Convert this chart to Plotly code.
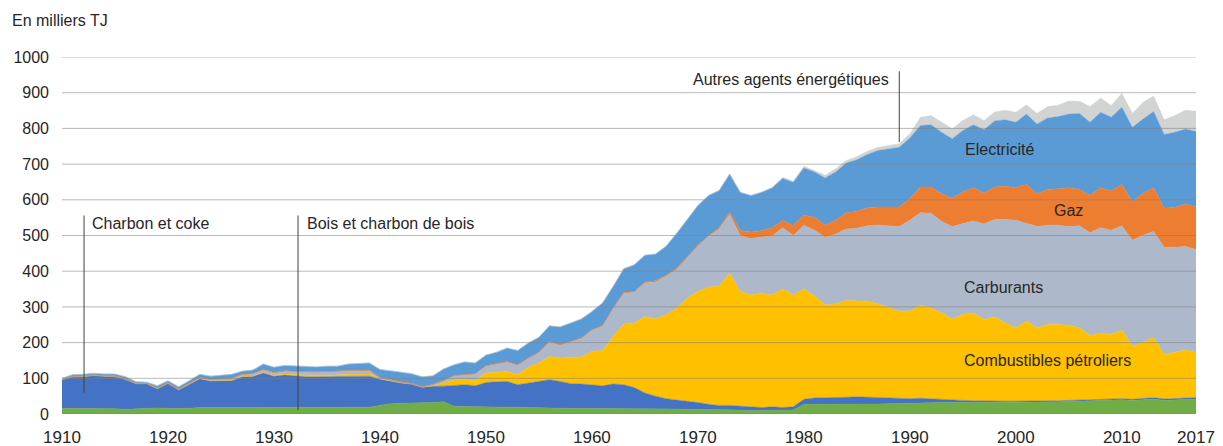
import plotly.graph_objects as go

years = list(range(1910, 2018))

bois = [16,16,16,16,16,15,13,14,17,17,
        16,15,16,18,19,18,18,18,18,18,
        18,19,18,18,18,18,17,17,17,19,
        24,29,30,30,31,32,34,22,21,20,
        20,19,19,19,19,18,17,16,16,16,
        15,15,15,15,15,15,14,14,14,13,
        13,12,12,11,11,10,10,10,10,11,
        27,27,26,26,27,28,28,28,29,30,
        31,32,32,32,32,32,32,32,32,32,
        33,33,33,34,34,35,36,36,38,38,
        40,38,40,42,38,40,41,42]

charbon = [80,88,89,92,90,90,84,71,68,54,
           70,53,67,81,74,76,76,86,87,97,
           88,90,88,86,86,86,88,89,89,87,
           73,63,57,54,44,46,44,58,61,59,
           68,71,72,63,68,73,79,75,69,68,
           67,64,69,67,59,44,36,29,25,23,
           19,15,12,13,11,8,8,10,8,9,
           14,18,19,19,20,20,19,18,16,13,
           12,12,10,8,6,6,5,4,3,4,
           3,4,3,3,3,3,3,3,3,3,
           3,3,4,4,4,4,4,4]

combustibles = [0,0,0,0,0,0,0,0,0,0,
                0,0,0,0,0,0,0,1,1,2,
                2,3,4,4,4,4,5,5,5,6,
                1,0,0,0,0,1,8,15,14,15,
                27,27,28,28,44,52,65,66,74,76,
                93,99,133,170,180,214,216,235,257,288,
                311,329,334,370,321,315,320,313,332,313,
                309,286,261,264,271,270,269,263,254,245,
                245,260,255,243,228,241,246,229,237,219,
                205,223,205,214,214,210,202,181,185,182,
                192,149,157,168,125,130,134,126]

carburants = [0,0,0,0,0,0,0,0,0,0,
              0,0,1,1,2,2,3,4,5,6,
              6,7,8,8,8,9,9,9,9,9,
              2,1,1,0,0,2,6,11,12,17,
              18,21,26,26,24,28,40,35,42,51,
              59,68,78,86,87,94,104,108,109,113,
              127,141,160,165,157,158,158,165,172,167,
              179,184,189,195,200,202,211,220,229,237,
              255,260,265,256,259,255,258,267,273,290,
              302,274,284,278,278,277,286,288,296,292,
              292,297,300,297,300,293,290,289]

gaz = [2,2,2,2,2,2,2,2,2,2,
       2,2,2,2,2,2,2,2,2,2,
       2,2,2,2,2,2,2,2,2,2,
       2,2,2,2,2,2,2,2,2,2,
       2,2,2,2,2,2,2,2,2,2,
       2,2,2,2,2,3,3,3,3,3,
       3,3,4,6,14,19,17,24,20,28,
       28,36,34,39,46,48,51,51,52,55,
       61,72,74,78,79,88,93,87,91,93,
       91,109,92,100,102,109,102,105,112,110,
       116,107,118,123,109,112,119,119]

electricite = [2,4,4,4,4,5,5,3,2,6,
               5,6,7,9,9,11,12,9,10,15,
               15,15,14,14,14,15,13,18,19,20,
               23,25,27,27,27,24,32,30,36,30,
               30,33,38,40,42,42,44,50,52,53,
               51,63,60,67,75,75,75,81,98,104,
               111,112,104,107,107,102,108,111,118,121,
               132,127,132,135,139,144,149,158,163,167,
               169,172,174,172,167,172,176,177,185,186,
               183,197,195,200,202,206,213,204,211,206,
               216,209,207,213,207,210,210,211]

autres = [0]*67 + [2,3,3,
          5,4,8,9,7,9,9,9,8,10,
          12,23,26,28,28,28,28,26,25,27,
          28,26,30,32,32,37,34,44,40,33,
          39,39,47,44,41,47,53,57]

series = [
    ("Bois et charbon de bois", bois, "#70ad47"),
    ("Charbon et coke", charbon, "#4472c4"),
    ("Combustibles pétroliers", combustibles, "#ffc000"),
    ("Carburants", carburants, "#adb9ca"),
    ("Gaz", gaz, "#ed7d31"),
    ("Electricité", electricite, "#5b9bd5"),
    ("Autres agents énergétiques", autres, "#d2d4d4"),
]

x_ticks = [1910, 1920, 1930, 1940, 1950, 1960, 1970, 1980, 1990, 2000, 2010, 2017]
y_ticks = list(range(0, 1001, 100))

FONT = "Liberation Sans, Arial, sans-serif"
TXT = "#262626"

fig = go.Figure()
for name, vals, col in series:
    fig.add_trace(go.Scatter(
        x=years, y=vals, name=name, stackgroup="one", mode="lines",
        line=dict(width=0.5, color=col), fillcolor=col, showlegend=False,
    ))

shapes = []
for v in y_ticks:
    shapes.append(dict(type="line", xref="paper", x0=0, x1=1, yref="y", y0=v, y1=v,
                       line=dict(color="rgba(128,128,128,0.55)", width=1), layer="above"))
# pointer lines
for (xx, y0, y1) in [(1912.08, 556, 60), (1932.27, 556, 11), (1989.0, 960, 762)]:
    shapes.append(dict(type="line", xref="x", x0=xx, x1=xx, yref="y", y0=y0, y1=y1,
                       line=dict(color="#404040", width=1), layer="above"))

annotations = [
    dict(text="En milliers TJ", xref="paper", yref="paper", x=(10 - 62) / 1134, y=(414.5 - 20) / 357.5,
         xanchor="left", yanchor="middle", showarrow=False),
    dict(text="Charbon et coke", x=1912.64, y=533, xanchor="left", yanchor="middle", showarrow=False),
    dict(text="Bois et charbon de bois", x=1932.93, y=533, xanchor="left", yanchor="middle", showarrow=False),
    dict(text="Autres agents énergétiques", x=1988.2, y=937, xanchor="right", yanchor="middle", showarrow=False),
    dict(text="Electricité", x=1998.5, y=741, xanchor="center", yanchor="middle", showarrow=False),
    dict(text="Gaz", x=2005.0, y=570, xanchor="center", yanchor="middle", showarrow=False),
    dict(text="Carburants", x=1998.8, y=354, xanchor="center", yanchor="middle", showarrow=False),
    dict(text="Combustibles pétroliers", x=2003.0, y=150, xanchor="center", yanchor="middle", showarrow=False),
]
for a in annotations:
    a["font"] = dict(family=FONT, size=16, color=TXT)

fig.update_layout(
    width=1223, height=446,
    margin=dict(l=62, r=27, t=57, b=32, autoexpand=False),
    paper_bgcolor="white", plot_bgcolor="white",
    font=dict(family=FONT, size=16, color=TXT),
    shapes=shapes, annotations=annotations,
    xaxis=dict(range=[1910, 2017], tickmode="array", tickvals=x_ticks,
               ticktext=[str(t) for t in x_ticks], showgrid=False, zeroline=False,
               showline=False, ticks="", ticklabelstandoff=11, automargin=False,
               tickfont=dict(family=FONT, size=17, color=TXT)),
    yaxis=dict(range=[0, 1000], tickmode="array", tickvals=y_ticks, showgrid=False,
               zeroline=False, showline=False, ticks="", ticklabelstandoff=12, automargin=False,
               tickfont=dict(family=FONT, size=16, color=TXT)),
    hovermode=False,
)

fig.write_html("out.html", config={"displayModeBar": False},
               post_script="document.body.style.margin='0';document.body.style.padding='0';document.body.style.overflow='hidden';")
